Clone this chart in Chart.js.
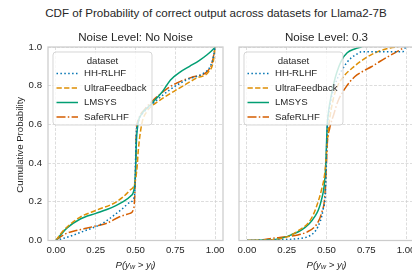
<!DOCTYPE html>
<html>
<head>
<meta charset="utf-8">
<script src="https://cdn.jsdelivr.net/npm/chart.js@4.4.1/dist/chart.umd.min.js"></script>
<style>
  html, body { margin: 0; padding: 0; background: #fff; }
  #wrap { position: relative; width: 412px; height: 274px; overflow: hidden; }
  #title {
    position: absolute; left: 0; top: 6px; width: 432px; text-align: center;
    font: 11.6px "Liberation Sans", Arial, sans-serif; line-height: 14px; color: #262626;
  }
  canvas { position: absolute; top: 0; }
  #left { left: 0; }
  #right { left: 232px; }
</style>
</head>
<body>
<div id="wrap">
  <div id="title">CDF of Probability of correct output across datasets for Llama2-7B</div>
  <canvas id="left" width="232" height="274"></canvas>
  <canvas id="right" width="190" height="274"></canvas>
</div>
<script>
// Tick labels and names
const X_TICKS = [0, 0.25, 0.5, 0.75, 1.0];
const Y_TICKS = [0, 0.2, 0.4, 0.6, 0.8, 1.0];
const DATASET_NAMES = ["HH-RLHF", "UltraFeedback", "LMSYS", "SafeRLHF"];
const PANEL_TITLES = ["Noise Level: No Noise", "Noise Level: 0.3"];
const LEGEND_TITLE = "dataset";
const Y_LABEL = "Cumulative Probability";

// seaborn colorblind palette
const COLORS = ["#0173b2", "#de8f05", "#029e73", "#d55e00"];
const DASHES = [[1.5, 2.4], [5.3, 2.3], [], [9, 2.3, 1.5, 2.3]];

// ---- Noise Level: No Noise ----
const hhX0 = [0, 0.05, 0.11, 0.18, 0.245, 0.3, 0.34, 0.42, 0.47, 0.495, 0.5, 0.505, 0.52, 0.56, 0.612, 0.67, 0.717, 0.82, 0.926, 0.97, 0.99, 1.0];
const hhY0 = [0, 0.012, 0.028, 0.05, 0.07, 0.092, 0.115, 0.166, 0.2, 0.24, 0.4, 0.55, 0.62, 0.67, 0.71, 0.75, 0.78, 0.83, 0.864, 0.9, 0.95, 1.0];

const ufX0 = [0, 0.03, 0.07, 0.15, 0.256, 0.38, 0.465, 0.497, 0.51, 0.518, 0.54, 0.57, 0.61, 0.654, 0.76, 0.885, 0.958, 0.99, 1.0];
const ufY0 = [0, 0.035, 0.07, 0.12, 0.157, 0.2, 0.26, 0.3, 0.38, 0.47, 0.605, 0.665, 0.7, 0.726, 0.78, 0.84, 0.87, 0.93, 1.0];

const lmX0 = [0, 0.03, 0.07, 0.15, 0.25, 0.32, 0.42, 0.47, 0.49, 0.5, 0.505, 0.515, 0.54, 0.58, 0.612, 0.67, 0.72, 0.78, 0.84, 0.9, 0.95, 0.99, 1.0];
const lmY0 = [0, 0.03, 0.065, 0.11, 0.14, 0.16, 0.2, 0.23, 0.26, 0.35, 0.5, 0.6, 0.655, 0.69, 0.717, 0.77, 0.83, 0.87, 0.9, 0.93, 0.96, 0.99, 1.0];

const srX0 = [0, 0.03, 0.067, 0.12, 0.19, 0.25, 0.32, 0.4, 0.465, 0.49, 0.5, 0.505, 0.52, 0.56, 0.612, 0.66, 0.717, 0.79, 0.863, 0.958, 0.985, 1.0];
const srY0 = [0, 0.02, 0.037, 0.05, 0.063, 0.075, 0.089, 0.123, 0.14, 0.17, 0.35, 0.55, 0.63, 0.68, 0.726, 0.76, 0.795, 0.825, 0.846, 0.88, 0.93, 1.0];

// ---- Noise Level: 0.3 ----
const hhX1 = [0, 0.1, 0.2, 0.3, 0.384, 0.42, 0.446, 0.478, 0.495, 0.5, 0.505, 0.52, 0.54, 0.57, 0.6, 0.625, 0.657, 0.688, 0.72, 0.85, 0.98, 0.99, 1.0];
const hhY1 = [0, 0.001, 0.003, 0.008, 0.02, 0.04, 0.071, 0.158, 0.28, 0.45, 0.58, 0.69, 0.77, 0.84, 0.885, 0.916, 0.945, 0.962, 0.975, 0.975, 0.976, 0.99, 1.0];

const ufX1 = [0, 0.1, 0.2, 0.279, 0.33, 0.384, 0.415, 0.437, 0.468, 0.489, 0.5, 0.51, 0.53, 0.56, 0.6, 0.66, 0.74, 0.82, 0.9, 0.95];
const ufY1 = [0, 0.002, 0.008, 0.028, 0.055, 0.089, 0.13, 0.175, 0.26, 0.347, 0.45, 0.56, 0.68, 0.78, 0.84, 0.89, 0.94, 0.975, 0.995, 1.0];

const lmX1 = [0, 0.1, 0.216, 0.28, 0.342, 0.39, 0.426, 0.45, 0.468, 0.485, 0.495, 0.5, 0.505, 0.515, 0.53, 0.545, 0.565, 0.594, 0.63, 0.677, 0.72];
const lmY1 = [0, 0.002, 0.011, 0.03, 0.054, 0.085, 0.123, 0.16, 0.209, 0.28, 0.38, 0.5, 0.6, 0.68, 0.75, 0.81, 0.87, 0.93, 0.97, 0.99, 1.0];

const srX1 = [0, 0.1, 0.153, 0.25, 0.32, 0.38, 0.426, 0.45, 0.468, 0.489, 0.5, 0.505, 0.52, 0.545, 0.572, 0.62, 0.677, 0.73, 0.782, 0.835, 0.887, 0.93, 0.96, 0.99];
const srY1 = [0, 0.004, 0.011, 0.02, 0.028, 0.045, 0.071, 0.1, 0.14, 0.226, 0.4, 0.5, 0.58, 0.65, 0.72, 0.79, 0.846, 0.875, 0.898, 0.925, 0.95, 0.97, 0.984, 1.0];

const FONT = '"Liberation Sans", Arial, sans-serif';
const TEXT = "#262626";

function toPoints(xs, ys) {
    return xs.map((x, i) => ({ x: x, y: ys[i] }));
}

// Frame, legend, panel title, axis titles
const decorPlugin = {
    id: "decor",
    afterDatasetsDraw(chart, args, opts) {
        const ctx = chart.ctx;
        const a = chart.chartArea;
        ctx.save();
        // axes frame
        ctx.strokeStyle = "#cccccc";
        ctx.lineWidth = 1.25;
        ctx.strokeRect(a.left, a.top, a.right - a.left, a.bottom - a.top);

        // legend box
        const bx = a.left + 5, by = a.top + 5, bw = 99, bh = 73, r = 3;
        ctx.beginPath();
        ctx.moveTo(bx + r, by);
        ctx.arcTo(bx + bw, by, bx + bw, by + bh, r);
        ctx.arcTo(bx + bw, by + bh, bx, by + bh, r);
        ctx.arcTo(bx, by + bh, bx, by, r);
        ctx.arcTo(bx, by, bx + bw, by, r);
        ctx.closePath();
        ctx.fillStyle = "rgba(255,255,255,0.8)";
        ctx.fill();
        ctx.strokeStyle = "rgba(204,204,204,0.8)";
        ctx.lineWidth = 1;
        ctx.stroke();

        ctx.font = "9.65px " + FONT;
        ctx.fillStyle = TEXT;
        ctx.textBaseline = "middle";
        ctx.textAlign = "center";
        ctx.fillText(LEGEND_TITLE, bx + bw / 2, by + 9);
        ctx.textAlign = "left";
        chart.data.datasets.forEach((ds, i) => {
            const y = by + 21.5 + i * 14.5;
            ctx.beginPath();
            ctx.setLineDash(ds.borderDash);
            ctx.strokeStyle = ds.borderColor;
            ctx.lineWidth = 1.5;
            ctx.moveTo(bx + 3.5, y);
            ctx.lineTo(bx + 25, y);
            ctx.stroke();
            ctx.setLineDash([]);
            ctx.fillText(ds.label, bx + 31, y);
        });

        // panel title
        const cx = (a.left + a.right) / 2;
        ctx.font = "11.6px " + FONT;
        ctx.textAlign = "center";
        ctx.fillText(opts.title, cx, 38);

        // x axis title: P(y_w > y_l)
        const big = "italic 9.65px " + FONT;
        const small = "italic 7px " + FONT;
        const parts = [["P(y", big, 0], ["w", small, 2.5], [" > y", big, 0], ["l", small, 2.5], [")", big, 0]];
        let total = 0;
        parts.forEach(p => { ctx.font = p[1]; total += ctx.measureText(p[0]).width; });
        let x = cx - total / 2;
        ctx.textAlign = "left";
        parts.forEach(p => {
            ctx.font = p[1];
            ctx.fillText(p[0], x, 265 + p[2]);
            x += ctx.measureText(p[0]).width;
        });

        // y axis title
        if (opts.yTitle) {
            ctx.translate(20, (a.top + a.bottom) / 2 + 1);
            ctx.rotate(-Math.PI / 2);
            ctx.font = "9.65px " + FONT;
            ctx.textAlign = "center";
            ctx.fillText(opts.yTitle, 0, 0);
        }
        ctx.restore();
    }
};

function makeChart(canvasId, panel, series, showY) {
    const datasets = series.map((s, i) => ({
        label: DATASET_NAMES[i],
        data: toPoints(s[0], s[1]),
        borderColor: COLORS[i],
        borderDash: DASHES[i],
        borderWidth: 1.5,
        pointRadius: 0,
        fill: false,
        cubicInterpolationMode: "monotone",
        clip: 0
    }));

    const gridStyle = {
        color: "rgba(204,204,204,0.85)",
        lineWidth: 0.8,
        drawTicks: false
    };

    return new Chart(document.getElementById(canvasId), {
        type: "line",
        data: { datasets: datasets },
        plugins: [decorPlugin],
        options: {
            responsive: false,
            animation: false,
            layout: { padding: { left: 0, top: 47, right: showY ? 9 : 8, bottom: 0 } },
            plugins: {
                legend: { display: false },
                tooltip: { enabled: false },
                decor: { title: PANEL_TITLES[panel], yTitle: showY ? Y_LABEL : null }
            },
            scales: {
                x: {
                    type: "linear",
                    min: -0.05,
                    max: 1.05,
                    afterBuildTicks: s => { s.ticks = X_TICKS.map(v => ({ value: v })); },
                    afterFit: s => { s.height = 33.5; },
                    grid: gridStyle,
                    border: { display: false, dash: [3, 1.5] },
                    ticks: {
                        padding: 4,
                        color: TEXT,
                        font: { family: FONT, size: 9.65 },
                        maxRotation: 0,
                        callback: v => v.toFixed(2)
                    }
                },
                y: {
                    min: 0,
                    max: 1,
                    afterBuildTicks: s => { s.ticks = Y_TICKS.map(v => ({ value: v })); },
                    afterFit: s => { s.width = showY ? 48 : 7; },
                    grid: gridStyle,
                    border: { display: false, dash: [3, 1.5] },
                    ticks: {
                        display: showY,
                        padding: 6,
                        color: TEXT,
                        font: { family: FONT, size: 9.65 },
                        callback: v => v.toFixed(1)
                    }
                }
            }
        }
    });
}

makeChart("left", 0, [[hhX0, hhY0], [ufX0, ufY0], [lmX0, lmY0], [srX0, srY0]], true);
makeChart("right", 1, [[hhX1, hhY1], [ufX1, ufY1], [lmX1, lmY1], [srX1, srY1]], false);
</script>
</body>
</html>
